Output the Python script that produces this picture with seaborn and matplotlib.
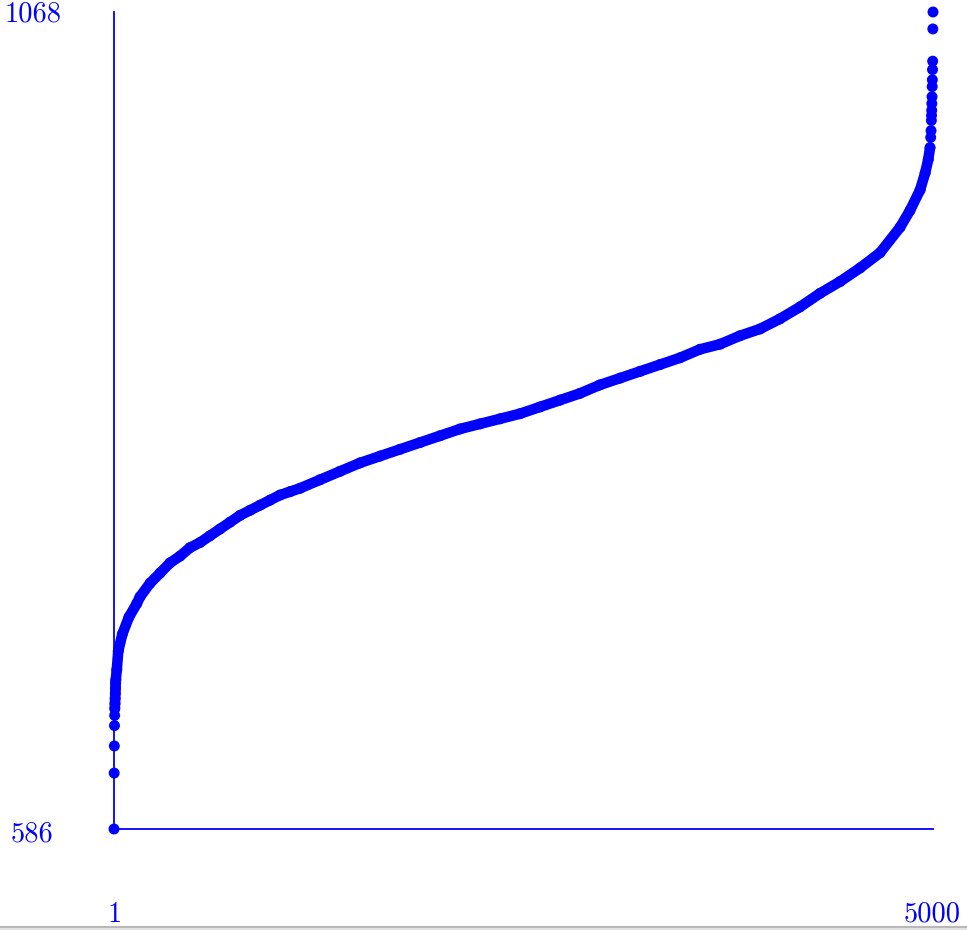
import matplotlib
matplotlib.use('Agg')
import matplotlib.pyplot as plt
import pandas as pd
import seaborn as sns
from matplotlib.lines import Line2D

# Sorted values (rank -> value)
rank = [1, 2, 3, 4, 5, 6, 7, 8, 9, 10, 11, 12,
        18, 27, 52, 92, 140, 160, 221, 282, 343, 404, 465, 526, 587, 648,
        709, 770, 831, 892, 953, 1014, 1075, 1136, 1258, 1380, 1503, 1625,
        1747, 1869, 1991, 2113, 2235, 2357, 2479, 2601, 2723, 2845, 2967,
        3090, 3212, 3334, 3456, 3578, 3700, 3822, 3944, 4066, 4188, 4310,
        4433, 4555, 4677, 4799, 4860, 4921, 4952, 4971, 4982,
        4986, 4988, 4990, 4991, 4992, 4993, 4994, 4995, 4996, 4997, 4998,
        4999, 5000]
value = [586, 619, 635, 647, 653, 657, 660, 663, 666, 669, 672, 674,
         680, 691, 701, 711, 719, 723, 731, 737, 743, 747, 752, 755, 759, 763,
         767, 771, 774, 777, 780, 783, 785, 787, 792, 797, 802, 806,
         810, 814, 818, 822, 825, 828, 831, 835, 839, 843, 848,
         852, 856, 860, 864, 869, 872, 877, 881, 887, 894, 902,
         909, 917, 926, 941, 951, 963, 973, 981, 988,
         994, 998, 1004, 1007, 1010, 1014, 1018, 1024, 1028, 1034, 1039,
         1058, 1068]

x_min, x_max = 1, 5000
y_min, y_max = 586, 1068
BLUE = '#0000ff'

df = pd.DataFrame({'rank': rank, 'value': value})
# dense middle part, where the dots merge into one band
dense = df[(df['rank'] >= 6) & (df['rank'] <= 4982)]

sns.set_style('white')
W, H = 967, 931
fig = plt.figure(figsize=(W / 100, H / 100), dpi=100)
ax = fig.add_axes([114 / W, (H - 829) / H, (933 - 114) / W, (829 - 12) / H])

sns.lineplot(data=dense, x='rank', y='value', ax=ax, color=BLUE, linewidth=7.6,
             estimator=None, sort=True, solid_capstyle='round',
             solid_joinstyle='round', clip_on=False)
sns.scatterplot(data=df, x='rank', y='value', ax=ax, color=BLUE, s=62,
                edgecolor='none', clip_on=False, zorder=3)

ax.set_xlim(x_min, x_max)
ax.set_ylim(y_min, y_max)
ax.set_xticks([])
ax.set_yticks([])
ax.set_xlabel('')
ax.set_ylabel('')
for side in ['top', 'right']:
    ax.spines[side].set_visible(False)
for side in ['left', 'bottom']:
    ax.spines[side].set_color(BLUE)
    ax.spines[side].set_linewidth(1.3)
ax.patch.set_alpha(0)

font = dict(family='cmr10', size=20.5, color=BLUE, va='baseline')
fig.text(5 / W, 1 - 21.7 / H, str(y_max), ha='left', **font)
fig.text(11 / W, 1 - 841 / H, str(y_min), ha='left', **font)
fig.text(115 / W, 1 - 921.7 / H, str(x_min), ha='center', **font)
fig.text(961 / W, 1 - 921.7 / H, str(x_max), ha='right', **font)

# faint page shadow at the bottom edge
fig.add_artist(Line2D([0, 1], [1 - 927 / H, 1 - 927 / H], color='#b8b8b8',
                      linewidth=1.5, transform=fig.transFigure))
fig.add_artist(Line2D([0, 1], [1 - 929 / H, 1 - 929 / H], color='#e2e2e2',
                      linewidth=1.5, transform=fig.transFigure))

fig.savefig('out.png', dpi=100)
